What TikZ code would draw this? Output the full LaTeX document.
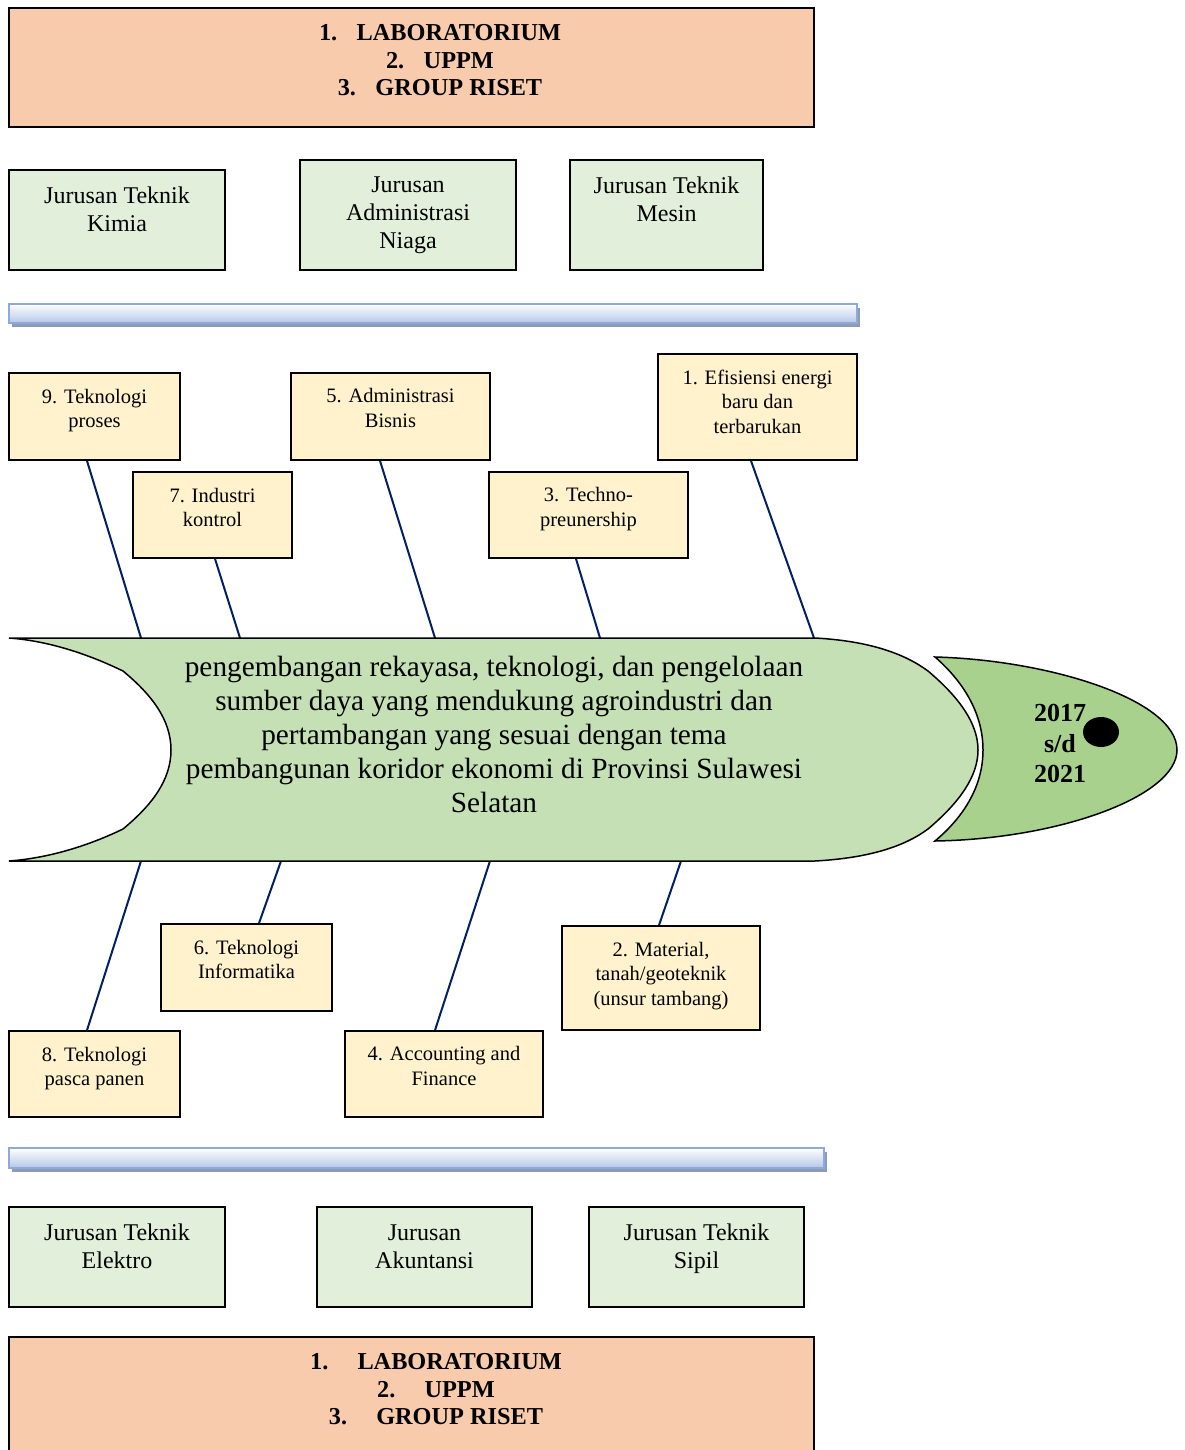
\documentclass[tikz,border=0pt]{standalone}
\usepackage{fontspec}
\setmainfont{Liberation Serif}

\definecolor{labfill}{HTML}{F8CBAD}
\definecolor{jurfill}{HTML}{E2EFDA}
\definecolor{topikfill}{HTML}{FFF2CC}
\definecolor{badan}{HTML}{C5E0B4}
\definecolor{kepala}{HTML}{A9D18E}
\definecolor{tulang}{HTML}{002060}
\definecolor{barline}{HTML}{8EAADB}
\definecolor{barfill}{HTML}{B4C7E7}
\definecolor{barshadow}{HTML}{8C9AB6}

\begin{document}
\begin{tikzpicture}[x=1pt, y=-1pt,
    labbox/.style={draw=black, line width=1.6pt, fill=labfill, inner sep=0pt},
    jurbox/.style={draw=black, line width=1.6pt, fill=jurfill, inner sep=0pt},
    topik/.style={draw=black, line width=1.6pt, fill=topikfill, inner sep=0pt},
    labtext/.style={align=center, font=\fontsize{24.3}{27.5}\selectfont\bfseries, inner sep=0pt},
    jurtext/.style={align=center, font=\fontsize{24}{28}\selectfont, inner sep=0pt},
    topiktext/.style={align=center, font=\fontsize{20.5}{24.5}\selectfont, inner sep=0pt},
    tulangline/.style={draw=tulang, line width=2pt}]
    \useasboundingbox (0,0) rectangle (1185,1450);

    %Lab, UPPM, group riset (atas)
    \node[labbox, minimum width=805, minimum height=119] (lab1) at (411.5,67.5) {};
    \node[labtext] (lab1t) at (440,60.5) {1.\hspace{0.8em}LABORATORIUM\\2.\hspace{0.8em}UPPM\\3.\hspace{0.8em}GROUP RISET};

    %Jurusan baris atas
    \node[jurbox, minimum width=216, minimum height=100] (kimia) at (117,220) {};
    \node[jurtext] (kimiat) at (117,209) {Jurusan Teknik\\Kimia};
    \node[jurbox, minimum width=216, minimum height=110] (niaga) at (408,215) {};
    \node[jurtext] (niagat) at (408,215.5) {Jurusan\\Administrasi\\Niaga};
    \node[jurbox, minimum width=193, minimum height=110] (mesin) at (666.5,215) {};
    \node[jurtext] (mesint) at (666.5,199.5) {Jurusan Teknik\\Mesin};

    %garis biru atas
    \fill[barshadow] (12,308) rectangle (860,327);
    \draw[top color=white, bottom color=barfill, draw=barline, line width=1.5pt] (9,304) rectangle (857,323);

    %topik riset atas
    \node[topik, minimum width=171, minimum height=87] (t9) at (94.5,416.5) {};
    \node[topiktext] (t9t) at (94.5,410.5) {9. Teknologi\\proses};
    \node[topik, minimum width=199, minimum height=87] (t5) at (390.5,416.5) {};
    \node[topiktext] (t5t) at (390.5,408) {5. Administrasi\\Bisnis};
    \node[topik, minimum width=199, minimum height=106] (t1) at (757.5,407) {};
    \node[topiktext] (t1t) at (757.5,401.5) {1. Efisiensi energi\\baru dan\\terbarukan};
    \node[topik, minimum width=159, minimum height=86] (t7) at (212.5,515) {};
    \node[topiktext] (t7t) at (212.5,507.5) {7. Industri\\kontrol};
    \node[topik, minimum width=199, minimum height=86] (t3) at (588.5,515) {};
    \node[topiktext] (t3t) at (588.5,509) {3. Techno-\\preunership};

    %topik riset bawah
    \node[topik, minimum width=171, minimum height=87] (t6) at (246.5,967.5) {};
    \node[topiktext] (t6t) at (246.5,959.5) {6. Teknologi\\Informatika};
    \node[topik, minimum width=198, minimum height=104] (t2) at (661,978) {};
    \node[topiktext] (t2t) at (661,976) {2. Material,\\tanah/geoteknik\\(unsur tambang)};
    \node[topik, minimum width=171, minimum height=86] (t8) at (94.5,1074) {};
    \node[topiktext] (t8t) at (94.5,1068.5) {8. Teknologi\\pasca panen};
    \node[topik, minimum width=198, minimum height=86] (t4) at (444,1074) {};
    \node[topiktext] (t4t) at (444,1066) {4. Accounting and\\Finance};

    %titik tulang di badan ikan
    \coordinate (p9) at (141,638);
    \coordinate (p7) at (240,638);
    \coordinate (p5) at (435,638);
    \coordinate (p3) at (600,638);
    \coordinate (p1) at (814,638);
    \coordinate (p8) at (141,861);
    \coordinate (p6) at (281,861);
    \coordinate (p4) at (490,861);
    \coordinate (p2) at (681,861);

    \draw[tulangline] ([xshift=-7.5]t9.south) -- (p9);
    \draw[tulangline] ([xshift=2.5]t7.south) -- (p7);
    \draw[tulangline] ([xshift=-10.5]t5.south) -- (p5);
    \draw[tulangline] ([xshift=-12.5]t3.south) -- (p3);
    \draw[tulangline] ([xshift=-6.5]t1.south) -- (p1);
    \draw[tulangline] ([xshift=-7.5]t8.north) -- (p8);
    \draw[tulangline] ([xshift=12.5]t6.north) -- (p6);
    \draw[tulangline] ([xshift=-9]t4.north) -- (p4);
    \draw[tulangline] ([xshift=-2]t2.north) -- (p2);

    %badan ikan
    \draw[fill=badan, line width=1.5pt] (9,638) -- (815,638)
        .. controls (870,641) and (905,654) .. (928,671)
        .. controls (960,698) and (978,724) .. (978,750)
        .. controls (978,776) and (960,802) .. (928,829)
        .. controls (905,846) and (870,858) .. (815,861)
        -- (9,861)
        .. controls (50,858) and (90,845) .. (123,829)
        .. controls (152,805) and (171,780) .. (171,750)
        .. controls (171,720) and (152,695) .. (123,671)
        .. controls (90,655) and (50,641) .. (9,638) -- cycle;
    \node[align=center, font=\fontsize{29.3}{34}\selectfont, inner sep=0pt] (tema) at (494,734.5)
        {pengembangan rekayasa, teknologi, dan pengelolaan\\sumber daya yang mendukung agroindustri dan\\pertambangan yang sesuai dengan tema\\pembangunan koridor ekonomi di Provinsi Sulawesi\\Selatan};

    %kepala ikan
    \draw[fill=kepala, line width=1.5pt] (935,657)
        .. controls (1050,660) and (1177,700) .. (1177,750)
        .. controls (1177,796) and (1060,839) .. (935,841)
        .. controls (966,815) and (983,784) .. (983,750)
        .. controls (983,716) and (966,684) .. (935,657) -- cycle;
    \fill[black] (1101,732) ellipse [x radius=18, y radius=15];
    \node[align=center, font=\fontsize{26}{30.5}\selectfont\bfseries, inner sep=0pt] (tahun) at (1060,743.5) {2017\\s/d\\2021};

    %garis biru bawah
    \fill[barshadow] (12,1152) rectangle (827,1172);
    \draw[top color=white, bottom color=barfill, draw=barline, line width=1.5pt] (9,1148) rectangle (824,1168);

    %Jurusan baris bawah
    \node[jurbox, minimum width=216, minimum height=100] (elektro) at (117,1257) {};
    \node[jurtext] (elektrot) at (117,1246.5) {Jurusan Teknik\\Elektro};
    \node[jurbox, minimum width=215, minimum height=100] (akuntansi) at (424.5,1257) {};
    \node[jurtext] (akuntansit) at (424.5,1246.5) {Jurusan\\Akuntansi};
    \node[jurbox, minimum width=215, minimum height=100] (sipil) at (696.5,1257) {};
    \node[jurtext] (sipilt) at (696.5,1249) {Jurusan Teknik\\Sipil};

    %Lab, UPPM, group riset (bawah)
    \node[labbox, minimum width=805, minimum height=120] (lab2) at (411.5,1397) {};
    \node[labtext] (lab2t) at (436,1389.5) {1.\hspace{1.2em}LABORATORIUM\\2.\hspace{1.2em}UPPM\\3.\hspace{1.2em}GROUP RISET};
\end{tikzpicture}
\end{document}
